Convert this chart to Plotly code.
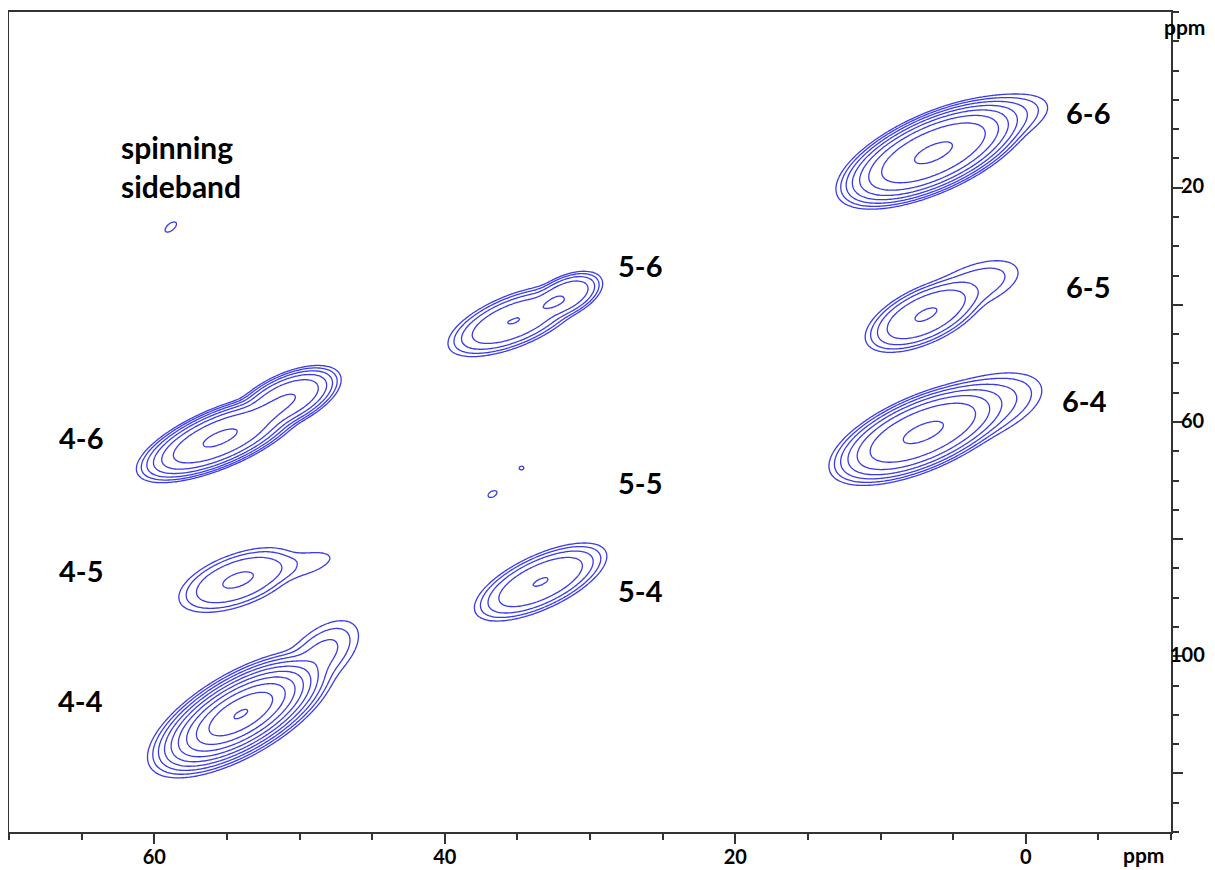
import numpy as np
import plotly.graph_objects as go

# ---- cross-peak table ----
# centre in ppm (F2 = x, F1 = y); outer-contour half-axes in screen px; tilt in deg;
# number of contour levels above the base level; peak-profile exponent
peak_x = [6.37, 2.79, 6.92, 3.48, 7.13, 3.48, 35.26, 31.69, 36.71, 34.71,
          33.40, 55.47, 50.95, 54.25, 49.91, 54.04, 48.54, 58.86]
peak_y = [14.07, 9.29, 41.73, 36.61, 61.88, 57.95, 42.76, 38.49, 72.29, 67.86,
          87.32, 62.73, 56.25, 86.98, 84.42, 109.86, 99.78, 26.71]
peak_a = [105, 65, 65, 45, 100, 70, 70, 40, 5, 2.5,
          72, 90, 60, 62, 30, 105, 45, 7]
peak_b = [40, 24, 28, 20, 38, 30, 26, 20, 3, 2.2,
          27, 30, 26, 26, 10, 42, 24, 3.5]
peak_tilt = [24, 18, 25, 20, 23, 20, 22, 25, 30, 0,
             25, 23, 25, 20, 15, 30, 40, 40]
peak_levels = [7.05, 2.5, 4.02, 1.5, 6.05, 2.5, 4.003, 3.86, 0.3, 0.3,
               4.006, 6.05, 5.02, 3.05, 0.6, 9.05, 2.5, 0.3]
peak_power = [3, 3, 3, 3, 3, 3, 3, 3, 3, 3,
              3, 3, 3, 3, 3, 2, 2, 3]

# ---- labels ----
label_text = ["6-6", "6-5", "6-4", "5-6", "5-5", "5-4", "4-6", "4-5", "4-4"]
label_x = [-4.28, -4.28, -4.07, 26.53, 26.53, 26.53, 65.05, 65.05, 65.05]
label_y = [7.24, 36.95, 56.25, 33.2, 70.4, 88.7, 62.73, 85.27, 107.47]

x_range = [70, -10]
y_range = [130, -10]
x_ticks = [60, 40, 20, 0]
y_ticks = [20, 40, 60, 80, 100, 120]
y_labels = [20, 60, 100]

# ---- build spectrum on grid ----
PX_X = 1162 / 80.0   # px per ppm horizontally
PX_Y = 820 / 140.0   # px per ppm vertically
xg = np.arange(-10, 70.001, 0.12)
yg = np.arange(-10, 130.001, 0.3)
X, Y = np.meshgrid(xg, yg)
Z = np.zeros_like(X)
for x0, y0, a, b, t, n, p in zip(peak_x, peak_y, peak_a, peak_b, peak_tilt,
                                 peak_levels, peak_power):
    du = (x0 - X) * PX_X
    dv = (y0 - Y) * PX_Y
    th = np.deg2rad(t)
    al = du * np.cos(th) + dv * np.sin(th)
    ac = -du * np.sin(th) + dv * np.cos(th)
    rho = np.sqrt((al / a) ** 2 + (ac / b) ** 2)
    Z += np.exp(np.clip(n * (1 - rho ** p), -50, 50))
L = np.round(np.clip(np.log(Z + 1e-30), -2, 20), 3)

line_col = "#3a3aec"
fig = go.Figure()
fig.add_trace(go.Contour(
    x=xg, y=yg, z=L,
    contours=dict(start=0, end=12, size=1, coloring="lines"),
    colorscale=[[0, line_col], [1, line_col]],
    line=dict(width=1.3),
    showscale=False, hoverinfo="skip",
))

font_fam = "Lato, 'Open Sans', sans-serif"
lab_font = dict(family=font_fam, size=29, color="black", weight="bold")
tick_font = dict(family=font_fam, size=20, color="black", weight="bold")
for t, x, y in zip(label_text, label_x, label_y):
    fig.add_annotation(x=x, y=y, text=t, showarrow=False, font=lab_font)
fig.add_annotation(x=62.43, y=16.38, text="spinning<br>sideband", showarrow=False,
                   xanchor="left", align="left",
                   font=dict(family=font_fam, size=30, color="black", weight="bold"))
# axis unit labels
fig.add_annotation(xref="paper", yref="paper", x=0.976, y=-0.028, text="ppm",
                   xanchor="center", yanchor="middle", showarrow=False,
                   font=dict(family=font_fam, size=21, color="black", weight="bold"))
fig.add_annotation(xref="paper", yref="paper", x=1.012, y=0.982, text="ppm",
                   xanchor="center", yanchor="middle", showarrow=False,
                   font=dict(family=font_fam, size=21, color="black", weight="bold"))
# right-aligned F1 tick labels (as in the original, they hug the axis)
for v in y_labels:
    fig.add_annotation(xref="paper", yref="y", x=1.031, y=v - 0.4, text=str(v),
                       xanchor="right", yanchor="middle", showarrow=False,
                       font=tick_font)

fig.update_xaxes(range=x_range, tickmode="array", tickvals=x_ticks, automargin=False,
                 ticks="outside", ticklen=10, tickcolor="#333", tickwidth=1.5,
                 ticklabelstandoff=-4,
                 minor=dict(dtick=5, tick0=0, ticks="outside", ticklen=6, tickcolor="#333", tickwidth=1.5),
                 showline=True, linecolor="#333", linewidth=1.5, mirror=True,
                 showgrid=False, zeroline=False, tickfont=tick_font)
fig.update_yaxes(range=y_range, side="right", tickmode="array", tickvals=y_ticks,
                 showticklabels=False, automargin=False,
                 ticks="outside", ticklen=10, tickcolor="#333", tickwidth=1.5,
                 minor=dict(dtick=5, tick0=0, ticks="outside", ticklen=6, tickcolor="#333", tickwidth=1.5),
                 showline=True, linecolor="#333", linewidth=1.5, mirror=True,
                 showgrid=False, zeroline=False)
# the page body adds an 8 px offset, so the figure is 8 px smaller and shifted
fig.update_layout(width=1207, height=862,
                  margin=dict(l=1, r=44, t=4, b=38, autoexpand=False),
                  paper_bgcolor="white", plot_bgcolor="white", showlegend=False)
fig.write_html("out.html")
